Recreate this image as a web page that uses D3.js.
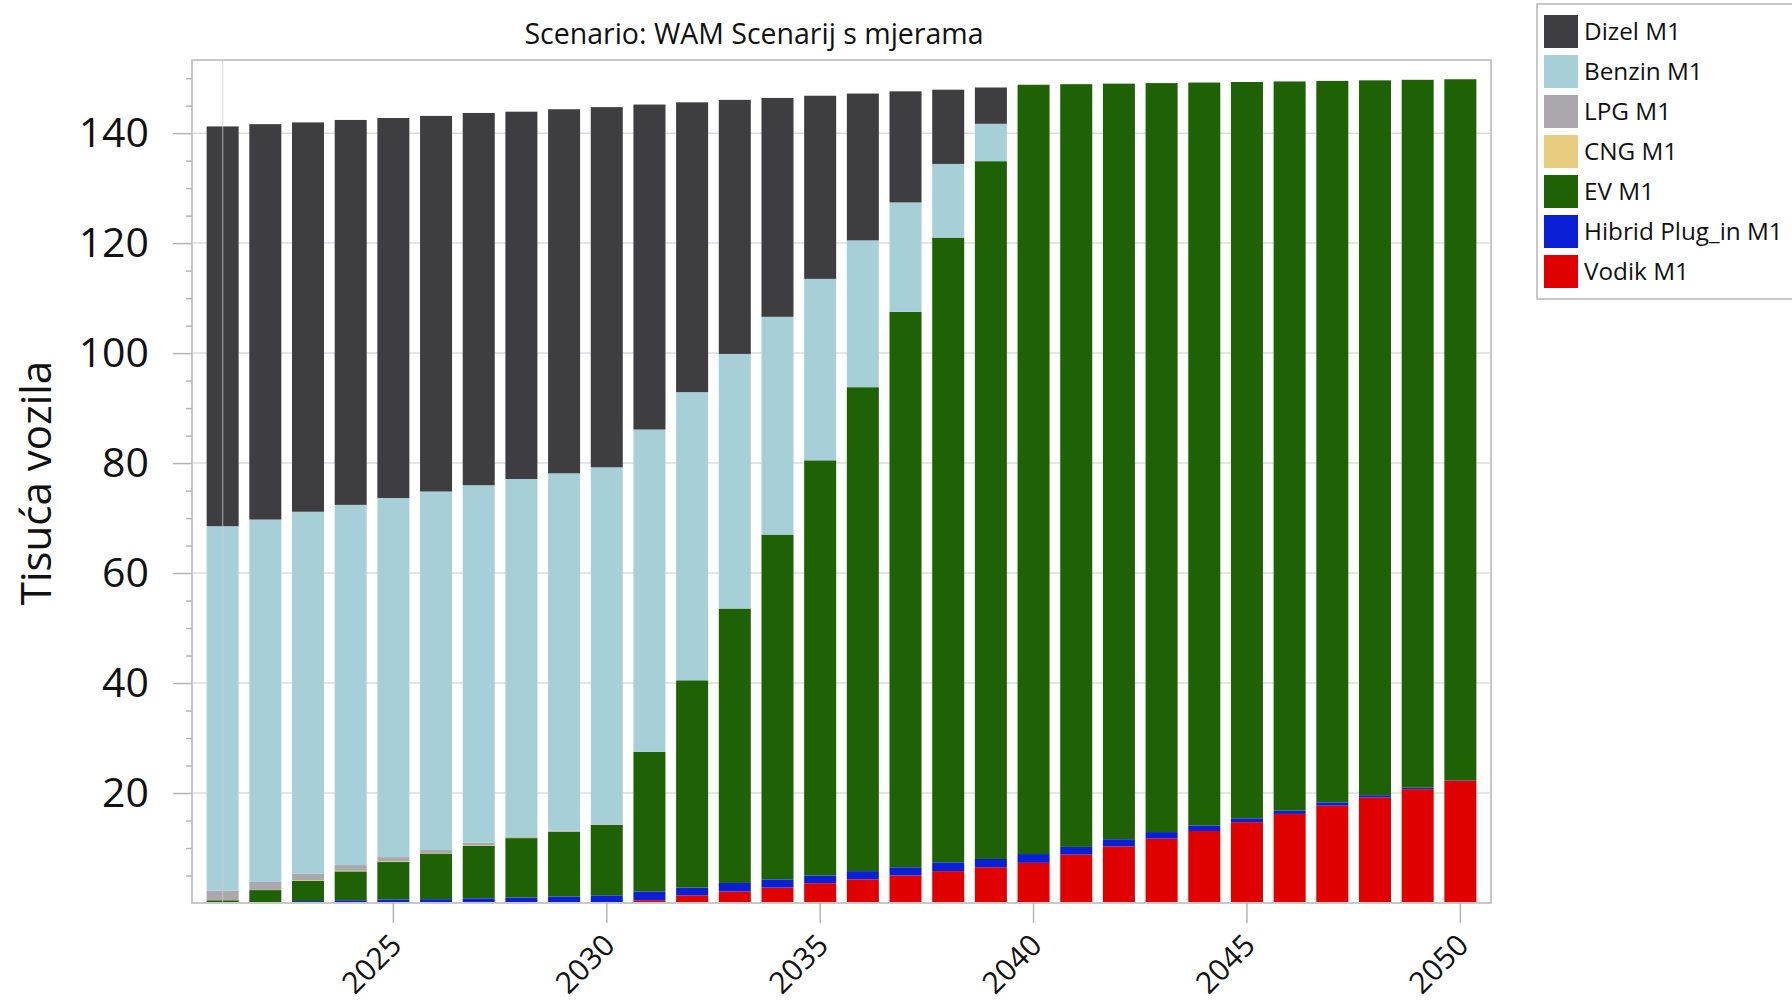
<!DOCTYPE html>
<html>
<head>
<meta charset="utf-8">
<script src="https://cdn.jsdelivr.net/npm/d3@7/dist/d3.min.js"></script>
<style>
  html, body { margin: 0; padding: 0; background: #fff; }
  svg { display: block; font-family: "Open Sans", "Noto Sans", sans-serif; }
</style>
</head>
<body>
<svg id="chart" width="1792" height="1002"></svg>
<script>
const years = d3.range(2021, 2051);
const seriesNames = ["Vodik M1", "Hibrid Plug_in M1", "EV M1", "CNG M1", "LPG M1", "Benzin M1", "Dizel M1"];
const legendOrder = ["Dizel M1", "Benzin M1", "LPG M1", "CNG M1", "EV M1", "Hibrid Plug_in M1", "Vodik M1"];
const colors = ["#e00000", "#0a1fd6", "#1f6206", "#e8cc7f", "#aaa8aa", "#a7cfd8", "#3e3d40"];

const vodik  = [0,0,0,0,0,0,0,0,0,0, 0.5,1.4,2.1,2.8,3.6,4.3,5.0,5.8,6.5,7.3, 8.8,10.3,11.7,13.1,14.7,16.2,17.7,19.2,20.7,22.2];
const hibrid = [0.05,0.15,0.35,0.5,0.65,0.7,0.85,1.0,1.2,1.4, 1.6,1.4,1.55,1.5,1.4,1.5,1.5,1.6,1.5,1.6, 1.4,1.3,1.2,1.0,0.7,0.6,0.6,0.4,0.3,0.1];
const ev     = [0.45,2.2,3.7,5.25,6.8,8.3,9.55,10.8,11.75,12.8, 25.4,37.7,49.9,62.7,75.5,88.0,101.0,113.6,126.9,139.9, 138.7,137.4,136.2,135.1,133.9,132.6,131.2,130.0,128.7,127.5];
const cng    = [0.02,0.03,0.1,0.1,0.1,0.08,0.07,0.05,0.04,0.03, 0,0,0,0,0,0,0,0,0,0, 0,0,0,0,0,0,0,0,0,0];
const lpg    = [1.7,1.45,1.2,1.05,0.8,0.55,0.5,0.25,0.15,0.1, 0,0,0,0,0,0,0,0,0,0, 0,0,0,0,0,0,0,0,0,0];
const benzin = [66.3,65.9,65.8,65.5,65.3,65.2,65.0,65.0,65.0,64.9, 58.6,52.4,46.3,39.6,33.0,26.7,19.9,13.4,6.8,0, 0,0,0,0,0,0,0,0,0,0];
const dizel  = [72.7,71.9,70.8,70.0,69.1,68.3,67.7,66.8,66.2,65.5, 59.1,52.7,46.2,39.8,33.3,26.7,20.2,13.5,6.6,0, 0,0,0,0,0,0,0,0,0,0];

const yMajorTicks = [20, 40, 60, 80, 100, 120, 140];
const xTickYears = [2025, 2030, 2035, 2040, 2045, 2050];
const titleText = "Scenario: WAM Scenarij s mjerama";
const yTitleText = "Tisuća vozila";

const seriesData = [vodik, hibrid, ev, cng, lpg, benzin, dizel];
const table = years.map((yr, i) => {
  const row = { year: yr };
  seriesNames.forEach((n, k) => row[n] = seriesData[k][i]);
  return row;
});
const colorOf = d3.scaleOrdinal().domain(seriesNames).range(colors);

const svg = d3.select("#chart");
const FONT = '"Open Sans", "Noto Sans", sans-serif';
const L = 192, R = 1491, T = 60, B = 903;

const x = d3.scaleBand().domain(years).range([L, R]).paddingInner(0.25).paddingOuter(0.343);
const y = d3.scaleLinear().domain([0, 153.3]).range([B, T]);

// gridlines
svg.append("g").selectAll("line").data(yMajorTicks).join("line")
  .attr("x1", L).attr("x2", R).attr("y1", d => y(d)).attr("y2", d => y(d))
  .attr("stroke", "#dcdcdc").attr("stroke-width", 1.5);

// bars
const stack = d3.stack().keys(seriesNames)(table);
svg.append("g").selectAll("g").data(stack).join("g")
  .attr("fill", d => colorOf(d.key))
  .selectAll("rect").data(d => d).join("rect")
  .attr("x", d => x(d.data.year))
  .attr("width", x.bandwidth())
  .attr("y", d => y(d[1]))
  .attr("height", d => Math.max(0, y(d[0]) - y(d[1])));

// faint vertical line at first category
svg.append("line")
  .attr("x1", x(years[0]) + x.bandwidth() / 2).attr("x2", x(years[0]) + x.bandwidth() / 2)
  .attr("y1", T).attr("y2", B)
  .attr("stroke", "rgba(205,205,205,0.55)").attr("stroke-width", 1.5);

// frame
svg.append("rect").attr("x", L).attr("y", T).attr("width", R - L).attr("height", B - T)
  .attr("fill", "none").attr("stroke", "#c8c8c8").attr("stroke-width", 2);

// y axis major
const yAxis = svg.append("g").attr("transform", `translate(${L},0)`)
  .call(d3.axisLeft(y).tickValues(yMajorTicks).tickSize(19).tickPadding(24).tickFormat(d3.format("d")));
yAxis.attr("font-family", FONT);
yAxis.select(".domain").remove();
yAxis.selectAll(".tick line").attr("stroke", "#b4b4b4").attr("stroke-width", 1.5);
yAxis.selectAll(".tick text").attr("font-size", 41).attr("fill", "#111");

// y axis minor
const minorVals = d3.range(5, 153, 5).filter(v => !yMajorTicks.includes(v));
const yMinor = svg.append("g").attr("transform", `translate(${L},0)`)
  .call(d3.axisLeft(y).tickValues(minorVals).tickSize(6).tickFormat(""));
yMinor.select(".domain").remove();
yMinor.selectAll(".tick line").attr("stroke", "#b4b4b4").attr("stroke-width", 1.5);

// x axis
const xAxis = svg.append("g").attr("transform", `translate(0,${B})`)
  .call(d3.axisBottom(x).tickValues(xTickYears).tickSize(20).tickFormat(d3.format("d")));
xAxis.attr("font-family", FONT);
xAxis.select(".domain").remove();
xAxis.selectAll(".tick line").attr("stroke", "#b4b4b4").attr("stroke-width", 1.5);
xAxis.selectAll(".tick text")
  .attr("font-size", 30).attr("fill", "#111")
  .attr("text-anchor", "end")
  .attr("dy", null).attr("y", null)
  .attr("transform", "translate(10,44) rotate(-45)");

// title
svg.append("text").attr("x", 754).attr("y", 44).attr("text-anchor", "middle")
  .attr("font-size", 28.5).attr("fill", "#111").text(titleText);

// y title
svg.append("text").attr("transform", "translate(51,483) rotate(-90)").attr("text-anchor", "middle")
  .attr("font-size", 42).attr("fill", "#111").text(yTitleText);

// legend
const lg = svg.append("g");
lg.append("rect").attr("x", 1537).attr("y", 4).attr("width", 270).attr("height", 295)
  .attr("fill", "#fff").attr("stroke", "#c8c8c8").attr("stroke-width", 2);
const items = lg.selectAll("g.item").data(legendOrder).join("g")
  .attr("transform", (d, i) => `translate(1544,${15 + i * 40})`);
items.append("rect").attr("width", 34).attr("height", 33).attr("fill", d => colorOf(d));
items.append("text").attr("x", 40).attr("y", 16.5).attr("dy", "0.35em")
  .attr("font-size", 24.3).attr("fill", "#111").text(d => d);
</script>
</body>
</html>
